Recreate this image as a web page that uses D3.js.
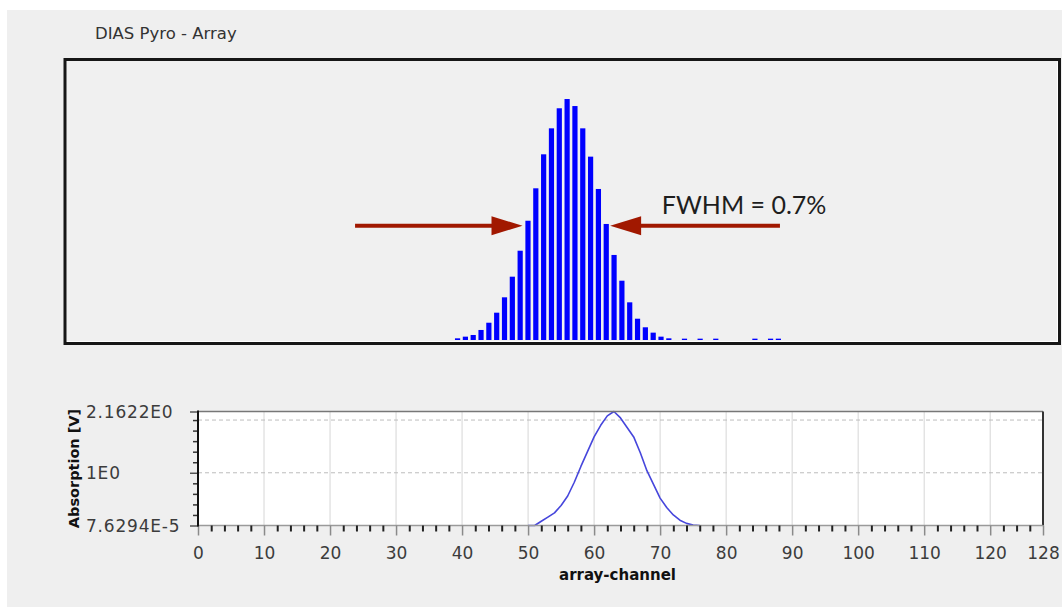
<!DOCTYPE html>
<html>
<head>
<meta charset="utf-8">
<script src="https://cdn.jsdelivr.net/npm/d3@7"></script>
<style>
  html, body { margin: 0; padding: 0; background: #ffffff; }
  svg { display: block; }
  text { font-family: "DejaVu Sans", sans-serif; }
</style>
</head>
<body>
<svg id="chart" width="1062" height="607"></svg>
<script>
// Array channels 0..127; pyro-array readout (bar view)
const barChannels = [50, 51, 52, 53, 54, 55, 56, 57, 58, 59, 60, 61, 62, 63,
  64, 65, 66, 67, 68, 69, 70, 71, 72, 73, 74, 75, 76, 77, 79, 81, 83, 88, 90, 91];
const barValues = [0.015, 0.03, 0.045, 0.09, 0.155, 0.245, 0.383, 0.568, 0.801, 1.070,
  1.361, 1.666, 1.899, 2.079, 2.162, 2.099, 1.899, 1.645, 1.355, 1.041,
  0.763, 0.532, 0.338, 0.191, 0.114, 0.066, 0.030, 0.015, 0.012, 0.012, 0.012, 0.012, 0.012, 0.012];

// Absorption trace (line view)
const lineChannels = [50, 51, 52, 53, 54, 55, 56, 57, 58, 59, 60, 61, 62, 63,
  64, 65, 66, 67, 68, 69, 70, 71, 72, 73, 74, 75, 76];
const lineValues = [0, 0, 0.08, 0.16, 0.24, 0.38, 0.56, 0.82, 1.12, 1.40, 1.68, 1.90, 2.08, 2.1622,
  2.04, 1.86, 1.68, 1.38, 1.04, 0.78, 0.52, 0.34, 0.20, 0.10, 0.04, 0.01, 0];

// Axis ticks
const xMajorTicks = [0, 10, 20, 30, 40, 50, 60, 70, 80, 90, 100, 110, 120, 128];
const yLabelTicks = [0, 1, 2.1622];
const yLabelText = ["7.6294E-5", "1E0", "2.1622E0"];
const yGridValues = [1, 2];

// FWHM annotation: arrows in channel units at the level they point to
const fwhmLevel = 1.025;
const fwhmArrows = [{ from: 37.4, to: 58.8 }, { from: 91.7, to: 70.0 }];
const fwhmLabel = "FWHM = 0.7%";

const channelMax = 128;
const valueMax = 2.1622;

const svg = d3.select("#chart");

// panel background
svg.append("rect").attr("x", 7).attr("y", 10).attr("width", 1055).attr("height", 597)
  .attr("fill", "#efefef");

svg.append("text").attr("x", 95).attr("y", 39)
  .attr("font-size", 16.5).attr("fill", "#333")
  .text("DIAS Pyro - Array");

// ---------- bar view ----------
const xTop = d3.scaleLinear().domain([0, channelMax]).range([62.4, 1064]);
const yTop = d3.scaleLinear().domain([0, valueMax]).range([340, 99]);

const barPanel = svg.append("g");
barPanel.append("rect").attr("x", 65).attr("y", 59.5).attr("width", 994.5).attr("height", 284)
  .attr("fill", "#f0f0f0").attr("stroke", "#161616").attr("stroke-width", 3);
// inner highlight on bottom/right edges
barPanel.append("path").attr("d", "M67,341.5H1057.5V61.5")
  .attr("fill", "none").attr("stroke", "#ffffff").attr("stroke-width", 1);

barPanel.selectAll("rect.bar").data(barChannels).join("rect")
  .attr("class", "bar")
  .attr("x", c => xTop(c + 0.5) - 2.6)
  .attr("width", 5.2)
  .attr("y", (c, i) => yTop(barValues[i]))
  .attr("height", (c, i) => yTop(0) - yTop(barValues[i]))
  .attr("fill", "#0000ff");

const arrowColor = "#a11800";
const ay = yTop(fwhmLevel);
fwhmArrows.forEach(a => {
  const x0 = xTop(a.from), x1 = xTop(a.to);
  const dir = Math.sign(x1 - x0);
  const headLen = 31, headHalf = 9.5;
  barPanel.append("line").attr("x1", x0).attr("y1", ay).attr("x2", x1 - dir * headLen + dir * 2).attr("y2", ay)
    .attr("stroke", arrowColor).attr("stroke-width", 4);
  barPanel.append("path")
    .attr("d", `M${x1},${ay}L${x1 - dir * headLen},${ay - headHalf}L${x1 - dir * headLen},${ay + headHalf}Z`)
    .attr("fill", arrowColor);
});

barPanel.append("text").attr("x", xTop(76.6)).attr("y", 214)
  .style("font-family", "Lato, 'Open Sans', sans-serif")
  .attr("font-size", 25).attr("fill", "#1e1e1e")
  .text(fwhmLabel);

// ---------- line view ----------
const xB = d3.scaleLinear().domain([0, channelMax]).range([198, 1043]);
const yB = d3.scaleLinear().domain([0, valueMax]).range([525.5, 411.5]);

const linePanel = svg.append("g");
linePanel.append("rect").attr("x", xB(0)).attr("y", yB(valueMax))
  .attr("width", xB(channelMax) - xB(0)).attr("height", yB(0) - yB(valueMax))
  .attr("fill", "#ffffff");

// vertical grid
linePanel.selectAll("line.vgrid").data(xMajorTicks.filter(v => v > 0 && v < channelMax)).join("line")
  .attr("class", "vgrid")
  .attr("x1", d => xB(d)).attr("x2", d => xB(d))
  .attr("y1", yB(valueMax)).attr("y2", yB(0))
  .attr("stroke", "#d6d6d6").attr("stroke-width", 1);

// horizontal dashed grid
linePanel.selectAll("line.hgrid").data(yGridValues).join("line")
  .attr("class", "hgrid")
  .attr("x1", xB(0)).attr("x2", xB(channelMax))
  .attr("y1", d => yB(d)).attr("y2", d => yB(d))
  .attr("stroke", "#bdbdbd").attr("stroke-width", 1).attr("stroke-dasharray", "4,3");

// trace
const line = d3.line().x((d, i) => xB(lineChannels[i])).y(d => yB(d));
linePanel.append("path").datum(lineValues)
  .attr("d", line)
  .attr("fill", "none").attr("stroke", "#4646dc").attr("stroke-width", 1.6)
  .attr("stroke-linejoin", "round");

// frame
linePanel.append("line").attr("x1", xB(0)).attr("x2", xB(channelMax))
  .attr("y1", yB(valueMax)).attr("y2", yB(valueMax)).attr("stroke", "#777").attr("stroke-width", 1.5);
linePanel.append("line").attr("x1", xB(channelMax)).attr("x2", xB(channelMax))
  .attr("y1", yB(valueMax)).attr("y2", yB(0)).attr("stroke", "#333").attr("stroke-width", 2);
linePanel.append("line").attr("x1", xB(0)).attr("x2", xB(channelMax))
  .attr("y1", yB(0)).attr("y2", yB(0)).attr("stroke", "#9a9a9a").attr("stroke-width", 1.5);

// x axis: minor ticks every 2 channels
const xMinor = d3.range(2, channelMax, 2).filter(v => v % 10 !== 0);
const xMinorAxis = d3.axisBottom(xB).tickValues(xMinor).tickSize(6).tickFormat("");
const gxm = linePanel.append("g").attr("transform", `translate(0,${yB(0)})`).call(xMinorAxis);
gxm.select(".domain").remove();
gxm.selectAll(".tick line").attr("stroke", "#222").attr("stroke-width", 2);

const xMajorAxis = d3.axisBottom(xB).tickValues(xMajorTicks).tickSize(10).tickPadding(11.5)
  .tickFormat(d3.format("d"));
const gx = linePanel.append("g").attr("transform", `translate(0,${yB(0)})`).call(xMajorAxis);
gx.select(".domain").remove();
gx.selectAll(".tick line").attr("stroke", "#8a8a8a").attr("stroke-width", 1.5);
gx.selectAll(".tick text").attr("font-family", "DejaVu Sans, sans-serif")
  .attr("font-size", 17).attr("fill", "#3c3c3c");

// y axis
const yMinor = d3.range(1, 11).map(k => k * 0.2).filter(v => Math.abs(v - 1) > 1e-9);
const yMinorAxis = d3.axisLeft(yB).tickValues(yMinor).tickSize(5).tickFormat("");
const gym = linePanel.append("g").attr("transform", `translate(${xB(0)},0)`).call(yMinorAxis);
gym.select(".domain").remove();
gym.selectAll(".tick line").attr("stroke", "#333").attr("stroke-width", 1.5);

const yMajorAxis = d3.axisLeft(yB).tickValues(yLabelTicks).tickSize(8).tickFormat("");
const gy = linePanel.append("g").attr("transform", `translate(${xB(0)},0)`).call(yMajorAxis);
gy.select(".domain").remove();
gy.selectAll(".tick line").attr("stroke", "#555").attr("stroke-width", 1.5);

linePanel.append("line").attr("x1", xB(0)).attr("x2", xB(0))
  .attr("y1", yB(valueMax) - 1).attr("y2", yB(0) + 1).attr("stroke", "#111").attr("stroke-width", 2);

linePanel.selectAll("text.ylab").data(yLabelTicks).join("text")
  .attr("class", "ylab")
  .attr("x", 86).attr("y", d => yB(d)).attr("dy", "0.36em")
  .attr("font-size", 17).attr("letter-spacing", 0.8).attr("fill", "#3c3c3c")
  .text((d, i) => yLabelText[i]);

linePanel.append("text")
  .attr("transform", `translate(79,${(yB(0) + yB(valueMax)) / 2}) rotate(-90)`)
  .attr("text-anchor", "middle").attr("font-size", 14.5).attr("font-weight", "bold").attr("fill", "#111")
  .text("Absorption [V]");

linePanel.append("text")
  .attr("x", (xB(0) + xB(channelMax)) / 2 - 3).attr("y", 580)
  .attr("text-anchor", "middle").attr("font-size", 15).attr("font-weight", "bold").attr("fill", "#111")
  .text("array-channel");
</script>
</body>
</html>
